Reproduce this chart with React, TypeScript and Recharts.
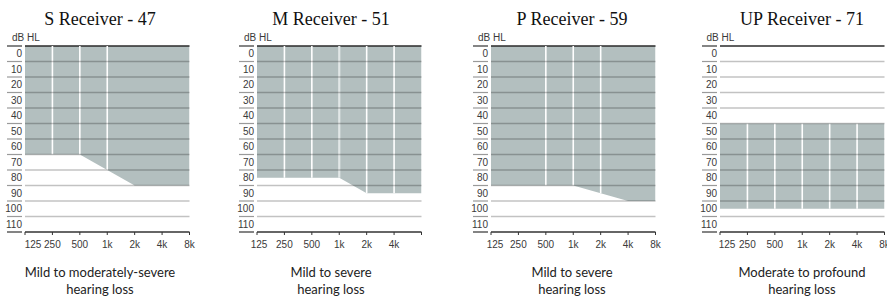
import React from 'react';
import { ComposedChart, Area, XAxis, YAxis, ReferenceLine } from 'recharts';

// ---- data ----
const frequencies = [125, 250, 500, 1000, 2000, 4000, 8000];
const freqLabelsFull = ['125', '250', '500', '1k', '2k', '4k', '8k'];
const freqLabelsNo8k = ['125', '250', '500', '1k', '2k', '4k', ''];
const levelTicks = [0, 10, 20, 30, 40, 50, 60, 70, 80, 90, 100, 110, 120];
const levelLabels = ['0', '10', '20', '30', '40', '50', '60', '70', '80', '90', '100', '110'];

const sTop = [0, 0, 0, 0, 0, 0, 0];
const sBottom = [70, 70, 70, 80, 90, 90, 90];
const mTop = [0, 0, 0, 0, 0, 0, 0];
const mBottom = [85, 85, 85, 85, 95, 95, 95];
const pTop = [0, 0, 0, 0, 0, 0, 0];
const pBottom = [90, 90, 90, 90, 95, 100, 100];
const upTop = [50, 50, 50, 50, 50, 50, 50];
const upBottom = [105, 105, 105, 105, 105, 105, 105];

const sWhiteLines = [250, 500, 1000];
const mWhiteLines = [250, 500, 1000, 2000, 4000];
const pWhiteLines = [500, 1000, 2000];
const upWhiteLines = [250, 500, 1000, 2000, 4000];
const mDimLines = [1000];

const titles = ['S Receiver - 47', 'M Receiver - 51', 'P Receiver - 59', 'UP Receiver - 71'];
const captions = [
  ['Mild to moderately-severe', 'hearing loss'],
  ['Mild to severe', 'hearing loss'],
  ['Mild to severe', 'hearing loss'],
  ['Moderate to profound', 'hearing loss'],
];

// ---- layout / style ----
const SHADE = '#b3bfbf';
const AXIS_FONT = "'Liberation Sans Narrow', 'Liberation Sans', Arial, sans-serif";
const CAPTION_FONT = "Lato, 'Open Sans', sans-serif";
const TITLE_FONT = "'Liberation Serif', 'DejaVu Serif', serif";
const Y_AXIS_W = 25;
const PLOT_W = 164.5;
const RIGHT_M = 12;
const ROW_HALF = 7.75;

const panels = [
  { top: sTop, bottom: sBottom, white: sWhiteLines, dim: [] as number[], labels: freqLabelsFull, plotLeft: 25, cx: 100, firstDx: 8 },
  { top: mTop, bottom: mBottom, white: mWhiteLines, dim: mDimLines, labels: freqLabelsNo8k, plotLeft: 257, cx: 331, firstDx: 2 },
  { top: pTop, bottom: pBottom, white: pWhiteLines, dim: [] as number[], labels: freqLabelsFull, plotLeft: 491, cx: 572, firstDx: 4 },
  { top: upTop, bottom: upBottom, white: upWhiteLines, dim: [] as number[], labels: freqLabelsFull, plotLeft: 719.5, cx: 802, firstDx: 7 },
];

const YTick = (props: any) => {
  const { x, y, payload } = props;
  const v = payload.value;
  const idx = levelTicks.indexOf(v);
  const label = levelLabels[idx];
  const edge = v === 0 || v === 120;
  return (
    <g>
      <line x1={x - 18} x2={x - 3} y1={y} y2={y} stroke={edge ? '#333' : '#9a9a9a'} strokeWidth={1.2} />
      {label !== undefined && (
        <text x={x - 3} y={y + ROW_HALF + 3.6} textAnchor="end" fontSize={10} fill="#3a3a3a" fontFamily={AXIS_FONT}>
          {label}
        </text>
      )}
    </g>
  );
};

const makeXTick = (labels: string[], firstDx: number) => (props: any) => {
  const { x, payload } = props;
  const idx = frequencies.indexOf(payload.value);
  const label = labels[idx];
  return (
    <text x={x + (idx === 0 ? firstDx : 0)} y={247.5} textAnchor="middle" fontSize={10} fill="#3a3a3a" fontFamily={AXIS_FONT}>
      {label}
    </text>
  );
};

const Panel = ({ p, i }: { p: any; i: number }) => {
  const data = frequencies.map((f, k) => ({ f, band: [p.top[k], p.bottom[k]] }));
  const svgLeft = p.plotLeft - Y_AXIS_W;
  const XTick = makeXTick(p.labels, p.firstDx);
  return (
    <>
      <div
        style={{
          position: 'absolute', left: p.cx - 100, top: 8, width: 200, textAlign: 'center',
          fontFamily: TITLE_FONT, fontSize: 18, lineHeight: '22px', color: '#111', whiteSpace: 'nowrap',
        }}
      >
        {titles[i]}
      </div>
      <div
        style={{
          position: 'absolute', left: p.plotLeft - 13, top: 32, fontFamily: AXIS_FONT, fontSize: 10,
          lineHeight: '12px', color: '#3a3a3a', whiteSpace: 'nowrap',
        }}
      >
        dB HL
      </div>
      <div style={{ position: 'absolute', left: svgLeft, top: 0 }}>
        <ComposedChart
          width={Y_AXIS_W + PLOT_W + RIGHT_M}
          height={297}
          data={data}
          margin={{ top: 46, right: RIGHT_M, bottom: 45, left: 0 }}
        >
          <XAxis
            dataKey="f"
            type="number"
            scale="log"
            domain={[125, 8000]}
            ticks={frequencies}
            interval={0}
            allowDataOverflow
            height={20}
            axisLine={{ stroke: '#333', strokeWidth: 1.3 }}
            tickLine={{ stroke: '#333', strokeWidth: 1 }}
            tickSize={3}
            tick={<XTick />}
          />
          <YAxis
            type="number"
            domain={[0, 120]}
            reversed
            ticks={levelTicks}
            interval={0}
            width={Y_AXIS_W}
            axisLine={false}
            tickLine={false}
            tickSize={0}
            tickMargin={0}
            tick={<YTick />}
          />
          <Area
            dataKey="band"
            type="linear"
            stroke="none"
            fill={SHADE}
            fillOpacity={1}
            isAnimationActive={false}
            activeDot={false}
          />
          <ReferenceLine y={0} stroke="#2a2a2a" strokeWidth={1.4} />
          {p.white.map((f: number) => {
            const k = frequencies.indexOf(f);
            const dim = p.dim.indexOf(f) >= 0;
            return (
              <ReferenceLine
                key={'w' + f}
                segment={[{ x: f, y: p.top[k] }, { x: f, y: p.bottom[k] }]}
                stroke={dim ? '#e2e7e7' : '#ffffff'}
                strokeWidth={dim ? 2.2 : 1.6}
              />
            );
          })}
          {levelTicks.slice(1, -1).map((v) => (
            <ReferenceLine key={'g' + v} y={v} stroke="#000" strokeOpacity={0.24} strokeWidth={1.3} />
          ))}
        </ComposedChart>
      </div>
      <div
        style={{
          position: 'absolute', left: p.cx - 100, top: 264, width: 200, textAlign: 'center',
          fontFamily: CAPTION_FONT, fontSize: 13, lineHeight: '17px', color: '#222',
        }}
      >
        <div>{captions[i][0]}</div>
        <div>{captions[i][1]}</div>
      </div>
    </>
  );
};

export default function App() {
  return (
    <div style={{ position: 'fixed', left: 0, top: 0, width: 887, height: 297, background: '#fff', overflow: 'hidden' }}>
      {panels.map((p, i) => (
        <Panel key={i} p={p} i={i} />
      ))}
    </div>
  );
}
